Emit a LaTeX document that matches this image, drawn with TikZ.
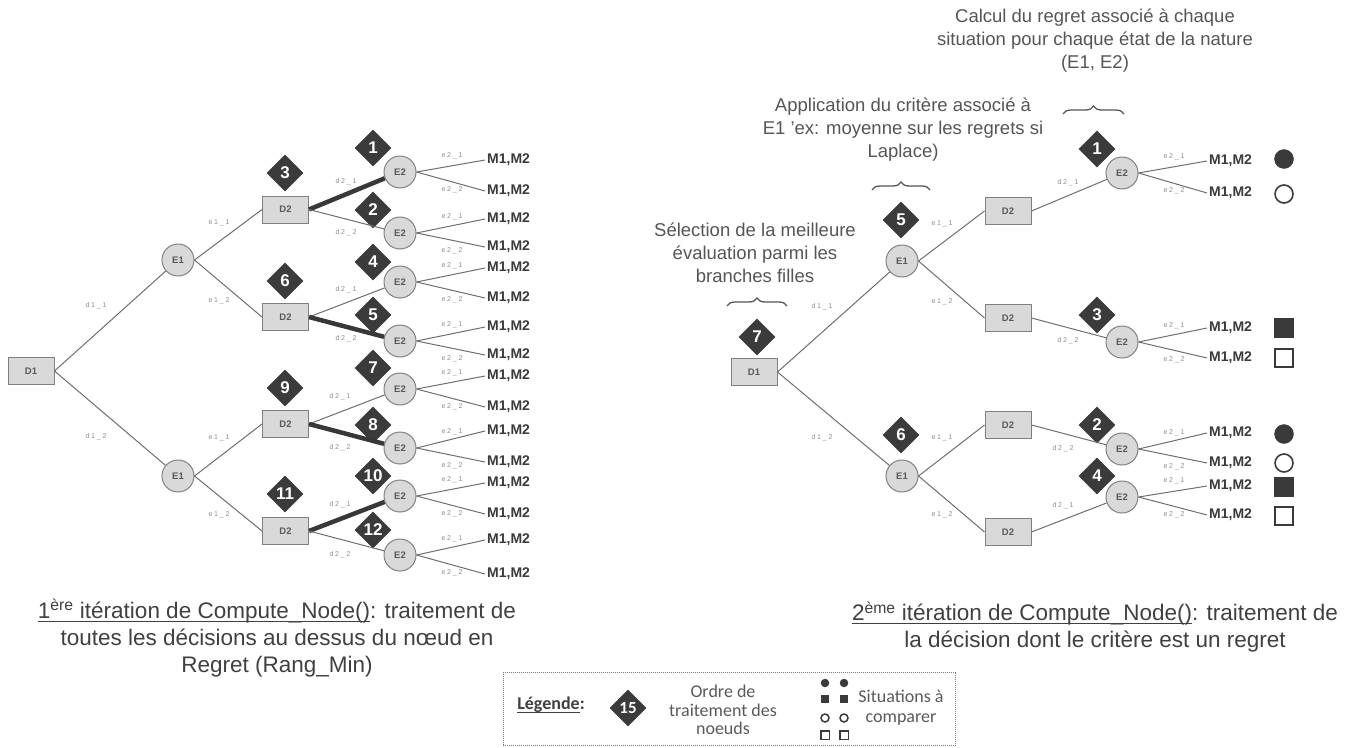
\documentclass[tikz,border=0pt]{standalone}
\usepackage{fontspec}
\setmainfont{Liberation Sans}
\newfontfamily\lblfont[LetterSpace=25]{Liberation Sans}
\newfontfamily\legfont{Carlito}
\newcommand{\myuline}[1]{\setbox0=\hbox{#1}\rlap{\vrule height -2.4pt depth 3.6pt width \wd0}\box0}
\usetikzlibrary{shapes.geometric,decorations.pathreplacing}
\definecolor{nodefill}{HTML}{D9D9D9}
\definecolor{nodedraw}{HTML}{808080}
\definecolor{nodetext}{HTML}{595959}
\definecolor{dia}{HTML}{3B3B3B}
\definecolor{edgec}{HTML}{6E6E6E}
\definecolor{hotc}{HTML}{383838}
\definecolor{labc}{HTML}{8C8C8C}
\definecolor{leafc}{HTML}{3A3A3A}
\definecolor{notec}{HTML}{555555}
\definecolor{captc}{HTML}{404040}
\definecolor{symc}{HTML}{3A3A3A}
\definecolor{legc}{HTML}{7A7A7A}
\newcommand{\leafpair}[6]{%
  \node[ecirc] (#1) at (#2,#3) {E2};
  \node[leaf] (#1-a) at (#6,#4) {M1,M2};
  \node[leaf] (#1-b) at (#6,#5) {M1,M2};
  \draw[link] (#1.east) -- (#1-a.west);
  \draw[link] (#1.east) -- (#1-b.west);
  \node[elab] (#1-la) at (#2+52,#3-16) {e2\_1};
  \node[elab] (#1-lb) at (#2+52,#3+18) {e2\_2};
}
\begin{document}
\begin{tikzpicture}[x=1pt,y=-1pt,
  dbox/.style={rectangle, draw=nodedraw, fill=nodefill, line width=1, minimum width=46, minimum height=27, inner sep=0, font=\bfseries\fontsize{9.5}{11}\selectfont, text=nodetext},
  ecirc/.style={circle, draw=nodedraw, fill=nodefill, line width=1, minimum size=32, inner sep=0, font=\bfseries\fontsize{9.5}{11}\selectfont, text=nodetext},
  order/.style={diamond, aspect=1, fill=dia, minimum width=37, minimum height=37, inner sep=0, text=white, font=\bfseries\fontsize{17}{17}\selectfont},
  link/.style={draw=edgec, line width=1},
  hot/.style={draw=hotc, line width=4.5},
  elab/.style={font=\lblfont\fontsize{7}{8}\selectfont, text=labc, inner sep=0},
  leaf/.style={anchor=west, inner sep=2, font=\bfseries\fontsize{14}{16}\selectfont, text=leafc},
  note/.style={align=center, font=\fontsize{18.5}{23}\selectfont, text=notec},
  capt/.style={align=center, font=\fontsize{22.5}{27}\selectfont, text=captc},
  brc/.style={decorate, decoration={brace, amplitude=8}, draw=notec, line width=1.3},
  sfc/.style={circle, fill=symc, draw=symc, minimum size=19, inner sep=0},
  soc/.style={circle, draw=symc, line width=1.6, fill=white, minimum size=18, inner sep=0},
  sfs/.style={rectangle, fill=symc, draw=symc, minimum size=19, inner sep=0},
  sos/.style={rectangle, draw=symc, line width=1.6, fill=white, minimum size=18, inner sep=0},
  lfc/.style={circle, fill=symc, minimum size=8.5, inner sep=0},
  loc/.style={circle, draw=symc, line width=1.5, minimum size=8, inner sep=0},
  lfs/.style={rectangle, fill=symc, minimum size=8.5, inner sep=0},
  los/.style={rectangle, draw=symc, line width=1.5, minimum size=8.5, inner sep=0}
]
\useasboundingbox (0,0) rectangle (1356,747);

% ================= LEFT TREE =================
\node[dbox] (L-D1) at (31,371) {D1};
\node[ecirc] (L-E1a) at (178,260) {E1};
\node[ecirc] (L-E1b) at (178,476) {E1};
\node[dbox] (L-D2a) at (285.5,209.5) {D2};
\node[dbox] (L-D2b) at (285.5,317) {D2};
\node[dbox] (L-D2c) at (285.5,424) {D2};
\node[dbox] (L-D2d) at (285.5,531) {D2};
\node[order] (L-n3) at (285,173) {3};
\node[order] (L-n6) at (285,281) {6};
\node[order] (L-n9) at (285,388) {9};
\node[order] (L-n11) at (285,494) {11};

\leafpair{L-E2a}{400}{172}{160}{191}{485}
\leafpair{L-E2b}{400}{233}{219}{247}{485}
\leafpair{L-E2c}{400}{282}{268}{298}{485}
\leafpair{L-E2d}{400}{341}{327}{355}{485}
\leafpair{L-E2e}{400}{389}{376}{407}{485}
\leafpair{L-E2f}{400}{448}{431}{462}{485}
\leafpair{L-E2g}{400}{496}{483}{514}{485}
\leafpair{L-E2h}{400}{555}{540}{574}{485}

\node[order] (L-n1) at (373,148) {1};
\node[order] (L-n2) at (373,210) {2};
\node[order] (L-n4) at (373,262) {4};
\node[order] (L-n5) at (373,315) {5};
\node[order] (L-n7) at (373,368) {7};
\node[order] (L-n8) at (373,425) {8};
\node[order] (L-n10) at (373,476) {10};
\node[order] (L-n12) at (373,530) {12};

\draw[link] (L-D1.east) -- (L-E1a);
\draw[link] (L-D1.east) -- (L-E1b);
\draw[link] (L-E1a.east) -- (L-D2a.west);
\draw[link] (L-E1a.east) -- (L-D2b.west);
\draw[link] (L-E1b.east) -- (L-D2c.west);
\draw[link] (L-E1b.east) -- (L-D2d.west);
\draw[hot]  (L-D2a.east) -- (L-E2a);
\draw[link] (L-D2a.east) -- (L-E2b);
\draw[link] (L-D2b.east) -- (L-E2c);
\draw[hot]  (L-D2b.east) -- (L-E2d);
\draw[link] (L-D2c.east) -- (L-E2e);
\draw[hot]  (L-D2c.east) -- (L-E2f);
\draw[hot]  (L-D2d.east) -- (L-E2g);
\draw[link] (L-D2d.east) -- (L-E2h);

\node[elab] (L-l1) at (96,306) {d1\_1};
\node[elab] (L-l2) at (96,437) {d1\_2};
\node[elab] (L-l3) at (219,223) {e1\_1};
\node[elab] (L-l4) at (219,301) {e1\_2};
\node[elab] (L-l5) at (219,438) {e1\_1};
\node[elab] (L-l6) at (219,515) {e1\_2};
\node[elab] (L-l7) at (346,182) {d2\_1};
\node[elab] (L-l8) at (346,233) {d2\_2};
\node[elab] (L-l9) at (346,290) {d2\_1};
\node[elab] (L-l10) at (346,339) {d2\_2};
\node[elab] (L-l11) at (340,397) {d2\_1};
\node[elab] (L-l12) at (340,448) {d2\_2};
\node[elab] (L-l13) at (340,505) {d2\_1};
\node[elab] (L-l14) at (340,555) {d2\_2};

% ================= RIGHT TREE =================
\node[dbox] (R-D1) at (754,372) {D1};
\node[order] (R-n7) at (757,337) {7};
\node[ecirc] (R-E1a) at (902,261) {E1};
\node[ecirc] (R-E1b) at (902,476) {E1};
\node[order] (R-n5) at (901,220) {5};
\node[order] (R-n6) at (901,435) {6};
\node[dbox] (R-D2a) at (1008,211) {D2};
\node[dbox] (R-D2b) at (1008,318) {D2};
\node[dbox] (R-D2c) at (1008,425) {D2};
\node[dbox] (R-D2d) at (1008,532) {D2};

\leafpair{R-E2a}{1122}{173}{161}{193}{1207}
\leafpair{R-E2b}{1122}{342}{328}{358}{1207}
\leafpair{R-E2c}{1122}{449}{433}{463}{1207}
\leafpair{R-E2d}{1122}{497}{486}{515}{1207}

\node[order] (R-n1) at (1097,149) {1};
\node[order] (R-n3) at (1097,315) {3};
\node[order] (R-n2) at (1097,425) {2};
\node[order] (R-n4) at (1097,476) {4};

\draw[link] (R-D1.east) -- (R-E1a);
\draw[link] (R-D1.east) -- (R-E1b);
\draw[link] (R-E1a.east) -- (R-D2a.west);
\draw[link] (R-E1a.east) -- (R-D2b.west);
\draw[link] (R-E1b.east) -- (R-D2c.west);
\draw[link] (R-E1b.east) -- (R-D2d.west);
\draw[link] (R-D2a.east) -- (R-E2a);
\draw[link] (R-D2b.east) -- (R-E2b);
\draw[link] (R-D2c.east) -- (R-E2c);
\draw[link] (R-D2d.east) -- (R-E2d);

\node[elab] (R-l1) at (822,307) {d1\_1};
\node[elab] (R-l2) at (822,438) {d1\_2};
\node[elab] (R-l3) at (942,224) {e1\_1};
\node[elab] (R-l4) at (942,302) {e1\_2};
\node[elab] (R-l5) at (942,438) {e1\_1};
\node[elab] (R-l6) at (942,515) {e1\_2};
\node[elab] (R-l7) at (1068,183) {d2\_1};
\node[elab] (R-l8) at (1068,341) {d2\_2};
\node[elab] (R-l9) at (1063,449) {d2\_2};
\node[elab] (R-l10) at (1063,506) {d2\_1};

\node[sfc] (s1) at (1284,159) {};
\node[soc] (s2) at (1284,194) {};
\node[sfs] (s3) at (1284,328) {};
\node[sos] (s4) at (1284,358) {};
\node[sfc] (s5) at (1284,434) {};
\node[soc] (s6) at (1284,463) {};
\node[sfs] (s7) at (1284,487) {};
\node[sos] (s8) at (1284,516) {};

% annotations
\node[note] (t-sel) at (755,253) {Sélection de la meilleure\\évaluation parmi les\\branches filles};
\node[note] (t-app) at (903,130) {Application du critère associé à\\E1 'ex: moyenne sur les regrets si\\Laplace)};
\node[note] (t-cal) at (1095,41) {Calcul du regret associé à chaque\\situation pour chaque état de la nature\\(E1, E2)};
\coordinate (b1a) at (727,306); \coordinate (b1b) at (787,306);
\coordinate (b2a) at (872,190); \coordinate (b2b) at (930,190);
\coordinate (b3a) at (1063,114); \coordinate (b3b) at (1124,114);
\draw[brc] (b1a) -- (b1b);
\draw[brc] (b2a) -- (b2b);
\draw[brc] (b3a) -- (b3b);

% captions
\node[capt] (cap-l) at (277,638) {\myuline{1\textsuperscript{ère} itération de Compute\_Node()}: traitement de\\toutes les décisions au dessus du nœud en\\Regret (Rang\_Min)};
\node[capt] (cap-r) at (1095,627) {\myuline{2\textsuperscript{ème} itération de Compute\_Node()}: traitement de\\la décision dont le critère est un regret};

% legend
\node[draw=legc, densely dotted, line width=1, minimum width=452, minimum height=73, inner sep=0] (legbox) at (729,709) {};
\node[font=\legfont\bfseries\fontsize{18}{20}\selectfont, text=captc] (leg-t) at (551,705) {\myuline{Légende}:};
\node[order, font=\legfont\bfseries\fontsize{17}{17}\selectfont] (leg-n) at (628,708) {15};
\node[align=center, font=\legfont\fontsize{18}{18.5}\selectfont, text=nodetext] (leg-o) at (723,710) {Ordre de\\traitement des\\noeuds};
\node[lfc] (g1) at (825,683) {};
\node[lfc] (g2) at (844,683) {};
\node[lfs] (g3) at (825,699) {};
\node[lfs] (g4) at (844,699) {};
\node[loc] (g5) at (825,718) {};
\node[loc] (g6) at (844,718) {};
\node[los] (g7) at (825,735) {};
\node[los] (g8) at (844,735) {};
\node[align=center, font=\legfont\fontsize{18}{20}\selectfont, text=nodetext] (leg-s) at (901,708) {Situations à\\comparer};
\end{tikzpicture}
\end{document}
